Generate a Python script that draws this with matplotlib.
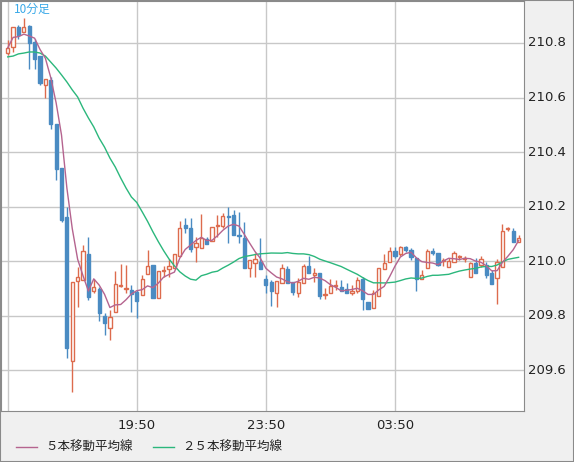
import matplotlib
matplotlib.use("Agg")
import matplotlib.pyplot as plt
import numpy as np
from matplotlib.patches import Rectangle

title = "10分足"
xtick_pos = [24, 48, 72]
xtick_labels = ["19:50", "23:50", "03:50"]
ytick_vals = [209.6, 209.8, 210.0, 210.2, 210.4, 210.6, 210.8]
ma_labels = ["５本移動平均線", "２５本移動平均線"]

opens = [210.763,210.785,210.859,210.840,210.862,210.804,210.752,210.646,210.664,210.503,
 210.341,210.161,209.633,209.927,209.930,210.026,209.890,209.897,209.798,209.754,
 209.813,209.908,209.897,209.894,209.886,209.875,209.952,209.985,209.864,209.963,
 209.971,209.974,210.018,210.132,210.121,210.051,210.048,210.081,210.073,210.128,
 210.128,210.165,210.169,210.095,210.084,209.974,209.993,209.996,209.934,209.923,
 209.883,209.919,209.971,209.923,209.883,209.919,209.982,209.949,209.956,209.875,
 209.883,209.908,209.905,209.897,209.883,209.890,209.934,209.849,209.827,209.872,
 209.971,209.996,210.037,210.026,210.051,210.040,210.011,209.934,209.974,210.037,
 210.029,210.000,209.978,209.996,210.015,210.007,209.941,209.993,209.985,209.985,
 209.956,209.938,209.978,210.117,210.110,210.070]
highs = [210.811,210.859,210.866,210.892,210.866,210.815,210.752,210.668,210.675,210.503,
 210.341,210.198,209.923,209.978,210.059,210.088,209.934,209.905,209.809,209.820,
 209.963,209.989,209.985,209.912,209.894,209.949,210.040,209.985,209.963,209.982,
 210.007,210.026,210.147,210.158,210.158,210.088,210.172,210.088,210.125,210.169,
 210.176,210.198,210.187,210.180,210.143,210.004,210.029,210.084,209.949,209.930,
 209.927,209.989,209.982,209.923,209.938,209.989,210.018,209.974,209.956,209.901,
 209.934,209.930,209.930,209.919,209.912,209.941,209.941,209.849,209.894,209.974,
 210.026,210.051,210.051,210.055,210.055,210.048,210.011,209.967,210.044,210.048,
 210.029,210.011,210.011,210.037,210.022,210.018,209.996,210.011,210.018,209.996,
 209.967,210.007,210.136,210.125,210.121,210.095]
lows = [210.756,210.767,210.815,210.840,210.705,210.705,210.646,210.598,210.484,210.297,
 210.143,209.644,209.519,209.831,209.930,209.857,209.883,209.780,209.728,209.710,
 209.813,209.905,209.883,209.813,209.791,209.875,209.952,209.864,209.864,209.941,
 209.941,209.974,210.018,210.103,210.033,209.996,210.048,210.062,210.073,210.088,
 210.121,210.066,210.095,210.066,209.974,209.941,209.941,209.971,209.883,209.835,
 209.831,209.919,209.919,209.875,209.868,209.919,209.956,209.923,209.861,209.861,
 209.883,209.894,209.890,209.883,209.875,209.883,209.820,209.824,209.827,209.872,
 209.971,209.996,210.011,210.018,210.033,210.004,209.890,209.934,209.974,210.022,
 209.982,209.982,209.978,209.996,210.004,209.996,209.941,209.956,209.978,209.938,
 209.916,209.842,209.978,210.110,210.070,210.070]
closes = [210.782,210.859,210.829,210.859,210.800,210.741,210.653,210.668,210.503,210.338,
 210.150,209.681,209.923,209.941,210.037,209.868,209.905,209.809,209.772,209.794,
 209.916,209.912,209.897,209.879,209.853,209.934,209.982,209.864,209.963,209.963,
 209.982,210.026,210.121,210.121,210.044,210.066,210.084,210.062,210.125,210.128,
 210.165,210.162,210.095,210.092,209.974,210.004,210.007,209.971,209.912,209.890,
 209.927,209.974,209.919,209.886,209.923,209.982,209.956,209.956,209.872,209.875,
 209.908,209.908,209.890,209.883,209.890,209.930,209.861,209.824,209.883,209.974,
 209.993,210.037,210.018,210.051,210.040,210.015,209.934,209.949,210.037,210.029,
 209.985,210.000,210.000,210.029,210.015,210.007,209.993,209.956,210.007,209.949,
 209.916,209.996,210.110,210.117,210.070,210.084]
# 25-bar MA for the first 24 bars (history before the window)
ma25_head = [210.749,210.752,210.760,210.763,210.767,210.767,210.763,210.752,210.730,210.708,
 210.683,210.657,210.628,210.602,210.561,210.525,210.492,210.451,210.418,210.378,
 210.345,210.305,210.268,210.235]

UP = "#dd6b4d"
DN = "#4a8bc2"
MA5C = "#b5648f"
MA25C = "#2bb77c"
GRID = "#c8c8c8"

n = len(closes)
x = np.arange(n)
c = np.array(closes)
ma5 = np.array([c[max(0, i-4):i+1].mean() for i in range(n)])
ma25 = np.array(ma25_head + [c[i-24:i+1].mean() for i in range(24, n)])

fig = plt.figure(figsize=(5.74, 4.62), dpi=100)
fig.patch.set_facecolor("#f0f0f0")
ax = fig.add_axes([1/574, 51/462, 523/574, 410/462])
ax.set_facecolor("white")
ax.set_xlim(-1.25, 96.0)
ax.set_ylim(209.450, 210.954)

for gx in [0] + xtick_pos:
    ax.axvline(gx, color=GRID, lw=1, zorder=0)
for gy in ytick_vals:
    ax.axhline(gy, color=GRID, lw=1, zorder=0)

w = 0.6
for i in range(n):
    o, h, l, cl = opens[i], highs[i], lows[i], closes[i]
    up = cl >= o
    col = UP if up else DN
    ax.vlines(i, l, h, color=col, lw=1, zorder=2)
    lo, hi = min(o, cl), max(o, cl)
    hgt = max(hi - lo, 0.003)
    if up:
        ax.add_patch(Rectangle((i - w/2, lo), w, hgt, facecolor="white", edgecolor=col, lw=1, zorder=3))
    else:
        ax.add_patch(Rectangle((i - w/2, lo), w, hgt, facecolor=col, edgecolor=col, lw=1, zorder=3))

ax.plot(x, ma25, color=MA25C, lw=1, zorder=4)
ax.plot(x, ma5, color=MA5C, lw=1, zorder=4)

ax.set_xticks([]); ax.set_yticks([])
for s in ax.spines.values():
    s.set_color("#8a8a8a")

for v in ytick_vals:
    ax.text(1.008, (v - 209.450) / (210.954 - 209.450), f"{v:.1f}", transform=ax.transAxes,
            ha="left", va="center", fontsize=9.5, color="#222222")
for p, lab in zip(xtick_pos, xtick_labels):
    ax.text(p, -0.02, lab, transform=ax.get_xaxis_transform(), ha="center", va="top",
            fontsize=9.5, color="#222222")

ax.text(0.025, 0.995, title, transform=ax.transAxes, ha="left", va="top", fontsize=8.5,
        color="#3aa9e8", family=["Noto Sans CJK JP", "DejaVu Sans"])

fig.add_artist(plt.Line2D([16/574, 37/574], [15/462, 15/462], color=MA5C, lw=1))
fig.text(45/574, 15/462, ma_labels[0], ha="left", va="center", fontsize=9, color="#222222",
         family=["Noto Sans CJK JP", "DejaVu Sans"])
fig.add_artist(plt.Line2D([153/574, 174/574], [15/462, 15/462], color=MA25C, lw=1))
fig.text(182/574, 15/462, ma_labels[1], ha="left", va="center", fontsize=9, color="#222222",
         family=["Noto Sans CJK JP", "DejaVu Sans"])

fig.add_artist(Rectangle((0, 0), 1, 1, transform=fig.transFigure, fill=False,
                         edgecolor="#8a8a8a", lw=1.5))
fig.savefig("out.png", dpi=100, facecolor=fig.get_facecolor())
